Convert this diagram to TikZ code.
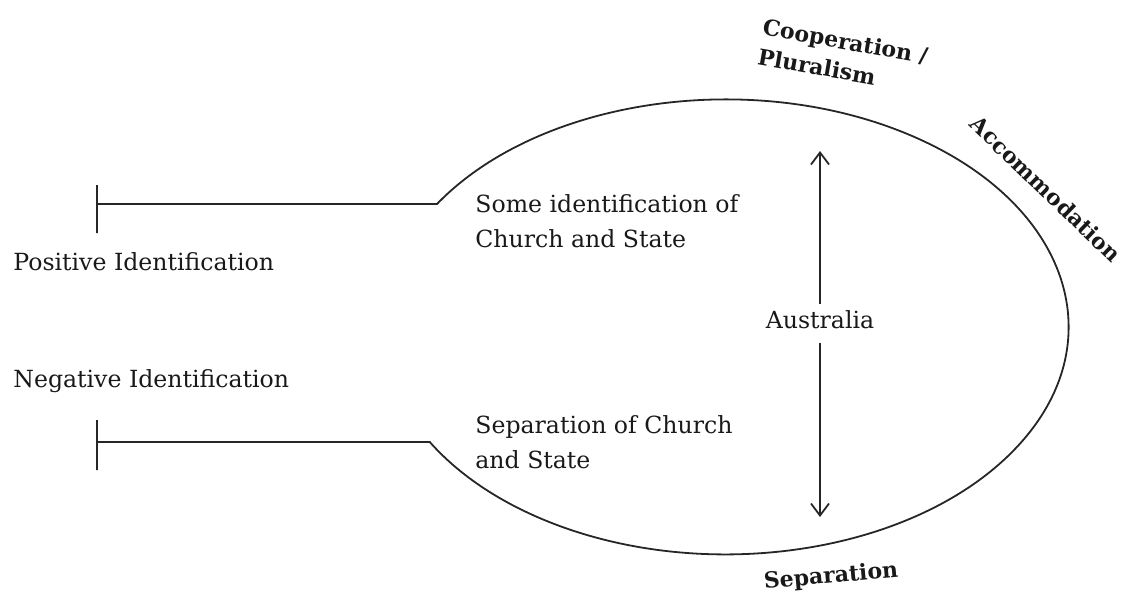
\documentclass[tikz,border=0pt]{standalone}
\usepackage{fontspec}
\setmainfont{DejaVu Serif}
\usetikzlibrary{arrows.meta}

\begin{document}
\begin{tikzpicture}[x=0.5pt, y=-0.5pt,
	lbl/.style={inner sep=0pt, anchor=base west, align=left, text=black!90, font=\fontsize{11.8}{17.5}\selectfont},
	side/.style={lbl, anchor=center, font=\fontsize{11}{15}\selectfont\bfseries},
	line/.style={line width=0.9pt, black!85},
	tip/.style={line, -{Straight Barb[length=6pt, width=9pt]}}]
	\useasboundingbox (0,0) rectangle (1126,596);
	\coordinate (top) at (820,151);
	\coordinate (bot) at (820,517);
	% the two arms and the loop between them
	\draw[line] (97,185) -- (97,233) (97,204)
	-- (437,204) arc[start angle=-147.3, end angle=149.6, x radius=343, y radius=227.5]
	-- (97,442) (97,420) -- (97,470);
	\node[lbl] (pos) at (13,270) {Positive Identification};
	\node[lbl] (neg) at (13,387) {Negative Identification};
	\node[lbl] (some) at (475,247) {Some identification of\\Church and State};
	\node[lbl] (sep) at (475,468) {Separation of Church\\and State};
	\node[lbl, anchor=base] (aus) at (820,328) {Australia};
	\draw[tip, shorten <=3pt] (aus) -- (top);
	\draw[tip, shorten <=7pt] (aus) -- (bot);
	\node[side, rotate=-10] (coop) at (843,56) {Cooperation /\\Pluralism};
	\node[side, rotate=-44] (acc) at (1046,189) {Accommodation};
	\node[side, rotate=5] (sepn) at (831,577) {Separation};
\end{tikzpicture}
\end{document}
